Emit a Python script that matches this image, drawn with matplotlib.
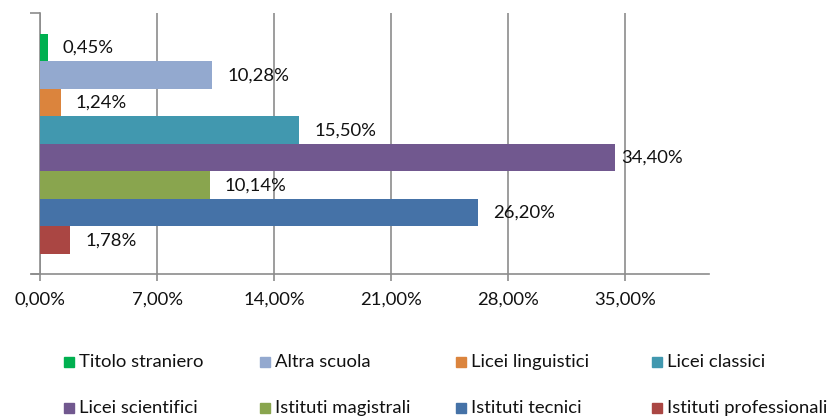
import matplotlib
matplotlib.use("Agg")
import matplotlib.pyplot as plt
from matplotlib.patches import Rectangle
from matplotlib.ticker import FuncFormatter

plt.rcParams['font.family'] = ['Lato', 'DejaVu Sans']

# Series, listed from top bar to bottom bar
series = ["Titolo straniero", "Altra scuola", "Licei linguistici", "Licei classici",
          "Licei scientifici", "Istituti magistrali", "Istituti tecnici",
          "Istituti professionali"]
values = [0.45, 10.28, 1.24, 15.50, 34.40, 10.14, 26.20, 1.78]
colors = ["#00B050", "#93A9CF", "#DB843D", "#4198AF",
          "#71588F", "#89A54E", "#4572A7", "#AA4643"]
x_ticks = [0, 7, 14, 21, 28, 35]

W, H = 832, 416
FS = 13.3
fig = plt.figure(figsize=(W / 100, H / 100), dpi=100)
ax = fig.add_axes([40 / W, 1 - 274 / H, (709 - 40) / W, (274 - 13) / H])

grey = "#8C8C8C"
n = len(series)
ypos = [n - 1 - i for i in range(n)]
ax.barh(ypos, values, height=1.0, color=colors, zorder=3)

ax.set_xlim(0, 40)
ax.set_ylim(-1.23, n - 1 + 1.26)
ax.set_xticks(x_ticks)
ax.xaxis.set_major_formatter(FuncFormatter(lambda v, p: f"{v:.2f}%".replace(".", ",")))
ax.set_yticks([-1.23, n - 1 + 1.26])
ax.set_yticklabels([])
ax.tick_params(axis='y', direction='out', length=7, width=1.2, color=grey)
ax.tick_params(axis='x', direction='out', length=5, width=1.2, color=grey,
               labelsize=FS, labelcolor="#111111", pad=8)
ax.grid(axis='x', color=grey, linewidth=1.2, zorder=0)
for side in ("top", "right"):
    ax.spines[side].set_visible(False)
for side in ("left", "bottom"):
    ax.spines[side].set_color(grey)
    ax.spines[side].set_linewidth(1.2)
# x axis line continues a little to the left of the y axis
ax.plot([-8 / ((709 - 40) / 40), 0], [-1.23, -1.23], color=grey, lw=1.2,
        clip_on=False, zorder=4)

# Value labels to the right of each bar, kept inside the chart area
fig.canvas.draw()
renderer = fig.canvas.get_renderer()
right_limit = 683
for y, v in zip(ypos, values):
    t = ax.annotate(f"{v:.2f}%".replace(".", ","), xy=(v, y), xytext=(11, 0),
                    textcoords="offset points", ha="left", va="center",
                    fontsize=FS, color="#111111", zorder=5)
    bb = t.get_window_extent(renderer)
    if bb.x1 > right_limit:
        t.set_position((11 - (bb.x1 - right_limit) * 0.72, 0))

# Legend: two rows of four entries
col_x = [64, 260, 456, 652]
row_y = [362, 408]
for i, (name, c) in enumerate(zip(series, colors)):
    cx = col_x[i % 4]
    cy = row_y[i // 4]
    fig.add_artist(Rectangle((cx / W, 1 - (cy + 5) / H), 10 / W, 10 / H,
                             transform=fig.transFigure, color=c))
    fig.text((cx + 15) / W, 1 - cy / H, name, ha="left", va="center",
             fontsize=FS, color="#111111")

fig.savefig("out.png", dpi=100)
